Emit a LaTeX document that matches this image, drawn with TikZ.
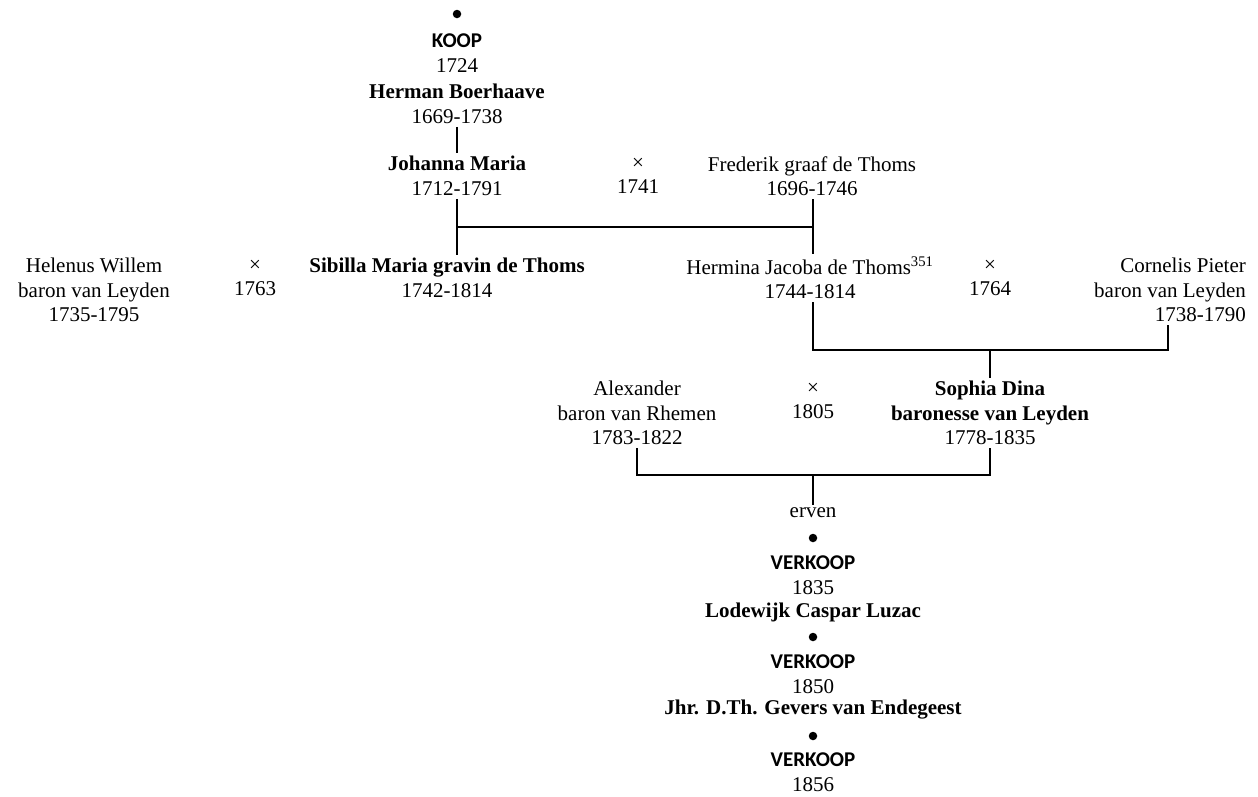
\documentclass[tikz,border=0pt]{standalone}
\usepackage{fontspec}
\setmainfont{Liberation Serif}
\setsansfont{Carlito}
\usepackage{tikz}
\newcommand{\deal}[1]{{\sffamily\bfseries #1}}
\tikzset{
  person/.style={align=center,inner sep=3pt,font=\fontsize{21}{24.5}\selectfont},
  coin/.style={circle,fill=black,inner sep=0pt,minimum size=8.5pt},
  tie/.style={line width=1.6pt}
}

\begin{document}
\begin{tikzpicture}[x=1pt,y=-1pt]
\useasboundingbox (0,0) rectangle (1258,796);

\node[coin] (dot1) at (457,14) {};
\node[person] (koop) at (457,53) {\deal{KOOP}\\1724};
\node[person] (herman) at (457,104) {\textbf{Herman Boerhaave}\\1669-1738};

\node[person] (johanna) at (457,176) {\textbf{Johanna Maria}\\1712-1791};
\node[person] (x1) at (638,176) {×\\1741};
\node[person] (frederik) at (812,176) {Frederik graaf de Thoms\\1696-1746};

\node[person] (helenus) at (94,290) {Helenus Willem\\baron van Leyden\\1735-1795};
\node[person] (x2) at (255,278) {×\\1763};
\node[person] (sibilla) at (447,278) {\textbf{Sibilla Maria gravin de Thoms}\\1742-1814};
\node[person] (hermina) at (810,278) {Hermina Jacoba de Thoms\textsuperscript{351}\\1744-1814};
\node[person] (x3) at (990,278) {×\\1764};
\node[person,align=right,anchor=east] (cornelis) at (1249,290) {Cornelis Pieter\\baron van Leyden\\1738-1790};

\node[person] (alexander) at (637,413) {Alexander\\baron van Rhemen\\1783-1822};
\node[person] (x4) at (813,401) {×\\1805};
\node[person] (sophia) at (990,413) {\textbf{Sophia Dina}\\\textbf{baronesse van Leyden}\\1778-1835};

\node[person] (erven) at (813,513) {erven};
\node[coin] (dot2) at (813,538) {};
\node[person] (verkoop1) at (813,575) {\deal{VERKOOP}\\1835};
\node[person] (lodewijk) at (813,612) {\textbf{Lodewijk Caspar Luzac}};
\node[coin] (dot3) at (813,637) {};
\node[person] (verkoop2) at (813,674) {\deal{VERKOOP}\\1850};
\node[person] (jhr) at (813,710) {\textbf{Jhr. D.Th. Gevers van Endegeest}};
\node[coin] (dot4) at (813,736) {};
\node[person] (verkoop3) at (813,772) {\deal{VERKOOP}\\1856};

\coordinate (j1) at (457,227);
\coordinate (f1) at (813,227);
\coordinate (h1) at (813,350);
\coordinate (c1) at (1168,350);
\coordinate (s1) at (990,350);
\coordinate (a1) at (637,475);
\coordinate (d1) at (990,475);
\coordinate (e1) at (813,475);

\draw[tie] (herman) -- (johanna);

\draw[tie] (johanna.south) -- (j1) -- (f1) -- (f1 |- frederik.south);
\draw[tie] (j1) -- (j1 |- sibilla.north);
\draw[tie] (f1) -- (f1 |- hermina.north);

\draw[tie] (h1 |- hermina.south) -- (h1) -- (c1) -- (c1 |- cornelis.south);
\draw[tie] (s1) -- (sophia.north);

\draw[tie] (alexander.south) -- (a1) -- (d1) -- (sophia.south);
\draw[tie] (e1) -- (erven.north);

\end{tikzpicture}
\end{document}
